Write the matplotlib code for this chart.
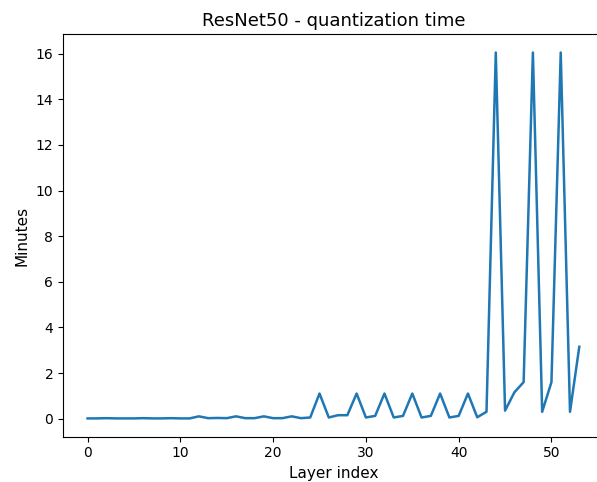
import matplotlib
matplotlib.use("Agg")
import matplotlib.pyplot as plt

layer_index = list(range(54))
minutes = [0.01, 0.01, 0.02, 0.01, 0.01, 0.01, 0.02, 0.01, 0.01, 0.02, 0.01, 0.01,
           0.10, 0.02, 0.03, 0.02, 0.10, 0.02, 0.02, 0.10, 0.02, 0.02, 0.10, 0.02,
           0.05, 1.10, 0.05, 0.15, 0.15, 1.10, 0.05, 0.12, 1.10, 0.05, 0.12, 1.10,
           0.05, 0.12, 1.10, 0.05, 0.12, 1.10, 0.06, 0.30, 16.05, 0.35, 1.15, 1.60,
           16.05, 0.30, 1.60, 16.05, 0.30, 3.15]

fig = plt.figure(figsize=(5.97, 4.82), dpi=100)
ax = fig.add_axes([0.1055, 0.094, 0.906, 0.835])
ax.plot(layer_index, minutes, color="#1f77b4", linewidth=1.8)
ax.set_title("ResNet50 - quantization time", fontsize=13)
ax.set_xlabel("Layer index", fontsize=11)
ax.set_ylabel("Minutes", fontsize=11)
ax.set_yticks([0, 2, 4, 6, 8, 10, 12, 14, 16])
fig.savefig("out.png", dpi=100)
